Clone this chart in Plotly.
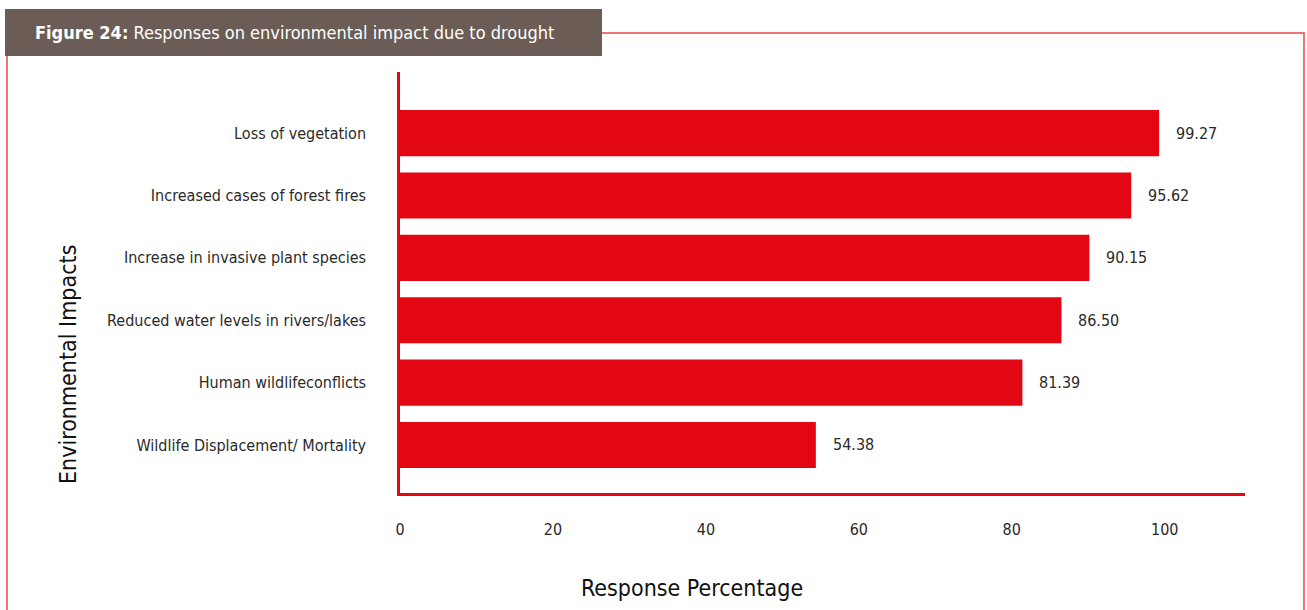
import plotly.graph_objects as go

# Survey results: share of respondents reporting each environmental impact
impacts = [
    "Wildlife Displacement/ Mortality",
    "Human wildlifeconflicts",
    "Reduced water levels in rivers/lakes",
    "Increase in invasive plant species",
    "Increased cases of forest fires",
    "Loss of vegetation",
]
percentages = [54.38, 81.39, 86.50, 90.15, 95.62, 99.27]
x_ticks = [0, 20, 40, 60, 80, 100]

W, H = 1307, 610
L, R, T, B = 400, 62, 72, 117
FONT = "DejaVu Sans Condensed, Liberation Sans Narrow, DejaVu Sans, sans-serif"
RED = "#e30613"
BORDER = "#e8444f"
BOX = "#6b5d55"


def fnt(size, color="#2a2a2a"):
    return dict(family=FONT, size=size, color=color)


def px_x(p):
    return (p - L) / (W - L - R)


def px_y(p):
    return 1 - (p - T) / (H - T - B)


fig = go.Figure(
    go.Bar(
        x=percentages,
        y=impacts,
        orientation="h",
        marker=dict(color=RED, line=dict(width=0)),
        width=0.74,
        hoverinfo="x+y",
    )
)

# value labels just past the end of each bar
for name, val in zip(impacts, percentages):
    fig.add_annotation(
        x=val, y=name, text=f"{val:.2f}", showarrow=False,
        xanchor="left", yanchor="middle", xshift=15,
        font=fnt(16),
    )

# axis titles
fig.add_annotation(
    x=px_x(692), y=px_y(588), xref="paper", yref="paper",
    xanchor="center", yanchor="middle",
    text="Response Percentage", showarrow=False,
    font=fnt(23, "#111"),
)
fig.add_annotation(
    x=px_x(68), y=px_y(365), xref="paper", yref="paper",
    xanchor="center", yanchor="middle",
    text="Environmental Impacts", showarrow=False, textangle=-90,
    font=fnt(23, "#111"),
)

# figure caption box
fig.add_annotation(
    x=px_x(33), y=px_y(33), xref="paper", yref="paper",
    xanchor="left", yanchor="middle", showarrow=False,
    text="<b>Figure 24:</b> Responses on environmental impact due to drought",
    font=fnt(18, "white"),
)

fig.update_layout(
    width=W, height=H,
    margin=dict(l=L, r=R, t=T, b=B),
    paper_bgcolor="white", plot_bgcolor="white",
    showlegend=False,
    font=fnt(16),
    shapes=[
        dict(type="rect", xref="paper", yref="paper",
             x0=px_x(7), x1=px_x(1304), y0=px_y(640), y1=px_y(33),
             line=dict(color=BORDER, width=1.5), fillcolor="rgba(0,0,0,0)",
             layer="below"),
        dict(type="rect", xref="paper", yref="paper",
             x0=px_x(5), x1=px_x(602), y0=px_y(56), y1=px_y(9),
             line=dict(width=0), fillcolor=BOX, layer="above"),
    ],
    xaxis=dict(
        range=[0, 110.5], tickvals=x_ticks, ticktext=[str(t) for t in x_ticks],
        showgrid=False, zeroline=False,
        showline=True, linecolor=RED, linewidth=2.5,
        ticks="", ticklabelstandoff=20,
        tickfont=fnt(16),
    ),
    yaxis=dict(
        categoryorder="array", categoryarray=impacts,
        range=[-0.77, 5.98],
        showgrid=False, zeroline=False,
        showline=True, linecolor=RED, linewidth=2.5,
        ticks="", ticklabelstandoff=28,
        tickfont=fnt(16),
    ),
)

fig.write_html("out.html")
